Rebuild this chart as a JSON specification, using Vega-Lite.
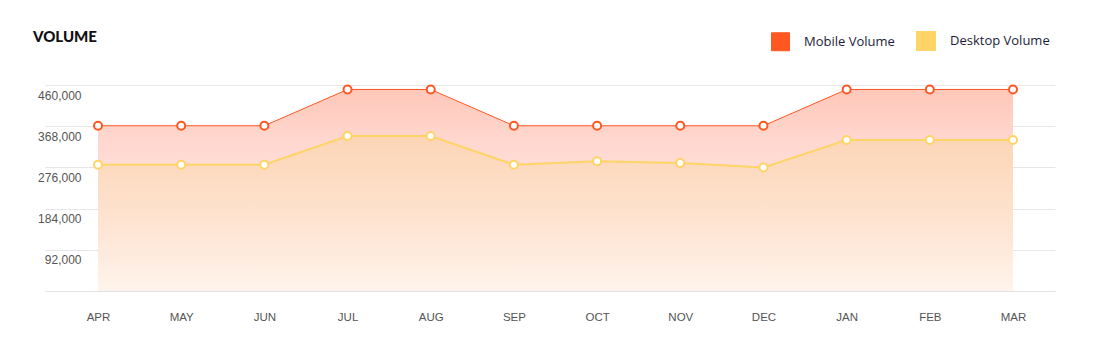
{
  "$schema": "https://vega.github.io/schema/vega-lite/v6.json",
  "autosize": {"type": "none"},
  "width": 1010,
  "height": 206,
  "padding": {"left": 45, "top": 85, "right": 54, "bottom": 63},
  "background": "white",
  "config": {
    "view": {"stroke": null},
    "font": "Liberation Sans"
  },
  "title": {
    "text": "VOLUME",
    "anchor": "start",
    "frame": "group",
    "font": "Lato",
    "fontSize": 15,
    "fontWeight": 900,
    "color": "#111111",
    "baseline": "alphabetic",
    "offset": -26,
    "dx": -12
  },
  "data": {
    "values": [
      {"month": "APR", "series": "Mobile Volume", "value": 369000},
      {"month": "MAY", "series": "Mobile Volume", "value": 369000},
      {"month": "JUN", "series": "Mobile Volume", "value": 369000},
      {"month": "JUL", "series": "Mobile Volume", "value": 450000},
      {"month": "AUG", "series": "Mobile Volume", "value": 450000},
      {"month": "SEP", "series": "Mobile Volume", "value": 369000},
      {"month": "OCT", "series": "Mobile Volume", "value": 369000},
      {"month": "NOV", "series": "Mobile Volume", "value": 369000},
      {"month": "DEC", "series": "Mobile Volume", "value": 369000},
      {"month": "JAN", "series": "Mobile Volume", "value": 450000},
      {"month": "FEB", "series": "Mobile Volume", "value": 450000},
      {"month": "MAR", "series": "Mobile Volume", "value": 450000},
      {"month": "APR", "series": "Desktop Volume", "value": 282000},
      {"month": "MAY", "series": "Desktop Volume", "value": 282000},
      {"month": "JUN", "series": "Desktop Volume", "value": 282000},
      {"month": "JUL", "series": "Desktop Volume", "value": 346000},
      {"month": "AUG", "series": "Desktop Volume", "value": 346000},
      {"month": "SEP", "series": "Desktop Volume", "value": 282000},
      {"month": "OCT", "series": "Desktop Volume", "value": 290000},
      {"month": "NOV", "series": "Desktop Volume", "value": 286000},
      {"month": "DEC", "series": "Desktop Volume", "value": 276000},
      {"month": "JAN", "series": "Desktop Volume", "value": 337000},
      {"month": "FEB", "series": "Desktop Volume", "value": 337000},
      {"month": "MAR", "series": "Desktop Volume", "value": 337000}
    ]
  },
  "encoding": {
    "x": {
      "field": "month",
      "type": "ordinal",
      "sort": ["APR","MAY","JUN","JUL","AUG","SEP","OCT","NOV","DEC","JAN","FEB","MAR"],
      "scale": {"type": "point", "padding": 0.571, "align": 0.558},
      "axis": {
        "title": null,
        "labelAngle": 0,
        "ticks": false,
        "grid": false,
        "domain": true,
        "domainColor": "#e2e2e6",
        "domainWidth": 1,
        "labelPadding": 20,
        "labelFontSize": 11.5,
        "labelColor": "#555555",
        "labelFont": "Liberation Sans"
      }
    },
    "y": {
      "field": "value",
      "type": "quantitative",
      "scale": {"domain": [0, 460000], "nice": false, "zero": true},
      "axis": {
        "title": null,
        "values": [0, 92000, 184000, 276000, 368000, 460000],
        "labelExpr": "datum.value === 0 ? '' : format(datum.value, ',')",
        "domain": false,
        "ticks": false,
        "grid": true,
        "gridColor": "#e6e6ea",
        "gridWidth": 1,
        "labelPadding": -36,
        "labelOffset": 10,
        "labelFlush": false,
        "labelFontSize": 12,
        "labelColor": "#555555",
        "labelFont": "Liberation Sans"
      }
    }
  },
  "layer": [
    {
      "transform": [{"filter": "datum.series === 'Mobile Volume'"}],
      "mark": {
        "type": "area",
        "color": {
          "gradient": "linear",
          "x1": 0, "y1": 0, "x2": 0, "y2": 1,
          "stops": [
            {"offset": 0, "color": "#FFC7B9"},
            {"offset": 0.27, "color": "#FFD8D0"},
            {"offset": 1, "color": "#FFF6F3"}
          ]
        }
      }
    },
    {
      "transform": [{"filter": "datum.series === 'Desktop Volume'"}],
      "mark": {
        "type": "area",
        "color": {
          "gradient": "linear",
          "x1": 0, "y1": 0, "x2": 0, "y2": 1,
          "stops": [
            {"offset": 0, "color": "#FDD5B6"},
            {"offset": 0.26, "color": "#FDDCC2"},
            {"offset": 0.64, "color": "#FEE6D6"},
            {"offset": 1, "color": "#FFF4EC"}
          ]
        }
      }
    },
    {
      "mark": {"type": "line"},
      "encoding": {
        "color": {
          "field": "series",
          "type": "nominal",
          "scale": {"domain": ["Mobile Volume", "Desktop Volume"], "range": ["#FF5722", "#FFD466"]},
          "legend": {
            "title": null,
            "orient": "none",
            "legendX": 726,
            "legendY": -54,
            "direction": "horizontal",
            "symbolType": "square",
            "symbolSize": 324,
            "symbolStrokeWidth": 0,
            "labelFont": "Open Sans",
            "labelFontSize": 13,
            "labelColor": "#1c1c3a",
            "labelOffset": 14,
            "columnPadding": 18,
            "padding": 0,
            "encode": {
              "symbols": {
                "update": {
                  "fill": {"scale": "color", "field": "value"},
                  "stroke": {"value": "transparent"}
                }
              }
            }
          }
        },
        "strokeWidth": {
          "field": "series",
          "type": "nominal",
          "scale": {"domain": ["Mobile Volume", "Desktop Volume"], "range": [1, 2]},
          "legend": null
        }
      }
    },
    {
      "mark": {"type": "point", "filled": false, "fill": "white", "fillOpacity": 1, "opacity": 1, "size": 64, "strokeWidth": 2},
      "encoding": {
        "stroke": {
          "field": "series",
          "type": "nominal",
          "scale": {"domain": ["Mobile Volume", "Desktop Volume"], "range": ["#FF5722", "#FFD466"]},
          "legend": null
        }
      }
    }
  ]
}
